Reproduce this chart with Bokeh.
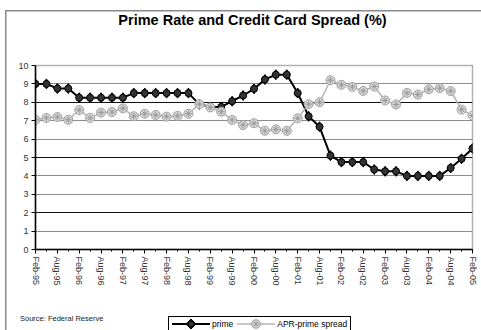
from bokeh.plotting import figure
from bokeh.layouts import column
from bokeh.models import (Range1d, FixedTicker, Grid, Label, Div, ColumnDataSource)
from bokeh.embed import file_html
from bokeh.resources import INLINE

# Quarterly observations, Feb-95 .. Feb-05
quarters = ["Feb-95", "May-95", "Aug-95", "Nov-95",
            "Feb-96", "May-96", "Aug-96", "Nov-96",
            "Feb-97", "May-97", "Aug-97", "Nov-97",
            "Feb-98", "May-98", "Aug-98", "Nov-98",
            "Feb-99", "May-99", "Aug-99", "Nov-99",
            "Feb-00", "May-00", "Aug-00", "Nov-00",
            "Feb-01", "May-01", "Aug-01", "Nov-01",
            "Feb-02", "May-02", "Aug-02", "Nov-02",
            "Feb-03", "May-03", "Aug-03", "Nov-03",
            "Feb-04", "May-04", "Aug-04", "Nov-04",
            "Feb-05"]

prime = [9.00, 9.00, 8.75, 8.75,
         8.25, 8.25, 8.25, 8.25,
         8.25, 8.50, 8.50, 8.50,
         8.50, 8.50, 8.50, 7.89,
         7.75, 7.75, 8.06, 8.37,
         8.73, 9.24, 9.50, 9.50,
         8.50, 7.24, 6.67, 5.10,
         4.75, 4.75, 4.75, 4.35,
         4.25, 4.25, 4.00, 4.00,
         4.00, 4.00, 4.43, 4.93,
         5.49]

spread = [7.05, 7.15, 7.20, 7.05,
          7.58, 7.15, 7.44, 7.47,
          7.67, 7.24, 7.38, 7.31,
          7.22, 7.26, 7.38, 7.90,
          7.72, 7.49, 7.04, 6.76,
          6.86, 6.45, 6.53, 6.45,
          7.13, 7.90, 8.00, 9.20,
          8.95, 8.84, 8.62, 8.86,
          8.10, 7.88, 8.51, 8.42,
          8.71, 8.77, 8.61, 7.60,
          7.28]

tick_labels = ["Feb-95", "Aug-95", "Feb-96", "Aug-96", "Feb-97", "Aug-97",
               "Feb-98", "Aug-98", "Feb-99", "Aug-99", "Feb-00", "Aug-00",
               "Feb-01", "Aug-01", "Feb-02", "Aug-02", "Feb-03", "Aug-03",
               "Feb-04", "Aug-04", "Feb-05"]

y_ticks = [0, 1, 2, 3, 4, 5, 6, 7, 8, 9, 10]

series_names = ["prime", "APR-prime spread"]

FONT = "Liberation Sans"
BORDER = "#8a8a8a"
W = 481
PLOT_LEFT, PLOT_RIGHT = 35, 472

# ---- heading band (frame lines up with the chart frame below) -------------
top = figure(width=W, height=40, output_backend="svg", toolbar_location=None,
             title=None, x_axis_type=None, y_axis_type=None,
             x_range=Range1d(PLOT_LEFT, PLOT_RIGHT), y_range=Range1d(40, 0), min_border=0)
top.outline_line_color = None
top.background_fill_alpha = 0
top.border_fill_alpha = 0
top.add_layout(Label(x=252, y=19, text="Prime Rate and Credit Card Spread (%)",
                     text_font=FONT, text_font_style="bold", text_font_size="14.5px",
                     text_align="center", text_baseline="middle", text_color="black"))

# ---- main chart ----------------------------------------------------------
x = list(range(len(quarters)))
src = ColumnDataSource(dict(x=x, q=quarters, prime=prime, spread=spread))
tick_pos = [quarters.index(t) for t in tick_labels]

p = figure(width=W, height=260, output_backend="svg", toolbar_location=None, title=None,
           x_range=Range1d(0, len(quarters) - 1), y_range=Range1d(0, 10),
           min_border_left=PLOT_LEFT, min_border_right=W - PLOT_RIGHT, min_border_top=25,
           min_border_bottom=51)
p.background_fill_color = "white"
p.border_fill_alpha = 0
p.outline_line_color = "#666666"
p.outline_line_width = 1.5
p.outline_line_dash = "1 1"

p.xgrid.visible = False
p.ygrid.ticker = FixedTicker(ticks=[1, 3, 4, 6, 7, 9])
p.ygrid.grid_line_color = "#8c8c8c"
p.ygrid.grid_line_width = 1
p.add_layout(Grid(dimension=1, ticker=FixedTicker(ticks=[2, 5, 8]),
                  grid_line_color="#111111", grid_line_width=1))

p.xaxis.ticker = FixedTicker(ticks=tick_pos, minor_ticks=x)
p.xaxis.major_label_overrides = {pos: lab for pos, lab in zip(tick_pos, tick_labels)}
p.xaxis.major_label_orientation = "vertical"
p.yaxis.ticker = FixedTicker(ticks=y_ticks)
for ax in (p.xaxis[0], p.yaxis[0]):
    ax.axis_line_color = "black"
    ax.axis_line_width = 1.5
    ax.major_tick_line_color = "black"
    ax.major_tick_in = 0
    ax.major_tick_out = 4
    ax.minor_tick_line_color = "black"
    ax.minor_tick_in = 0
    ax.minor_tick_out = 2
    ax.major_label_text_font = FONT
    ax.major_label_text_font_size = "9px"
    ax.major_label_text_color = "#333333"
    ax.major_label_standoff = 3
p.yaxis.minor_tick_line_color = None

p.line("x", "prime", source=src, line_color="black", line_width=2)
p.scatter("x", "prime", source=src, marker="diamond", size=10,
          fill_color="#1a1a1a", line_color="black")
p.scatter("x", "prime", source=src, marker="circle", size=7,
          fill_color="#333333", line_color="black")
p.line("x", "spread", source=src, line_color="#b4b4b4", line_width=1.5)
p.scatter("x", "spread", source=src, marker="circle", size=9,
          fill_color="#dcdcdc", line_color="#a0a0a0")
p.scatter("x", "spread", source=src, marker="asterisk", size=7, line_color="#9a9a9a")

# ---- footer: source note and legend key -----------------------------------
key_prime = ('<svg width="38" height="12" style="display:block">'
             '<line x1="0" y1="6" x2="38" y2="6" stroke="black" stroke-width="2"/>'
             '<polygon points="19,1 24,6 19,11 14,6" fill="#1a1a1a" stroke="black"/>'
             '<circle cx="19" cy="6" r="3" fill="#333333" stroke="black"/></svg>')
key_spread = ('<svg width="38" height="12" style="display:block">'
              '<line x1="0" y1="6" x2="38" y2="6" stroke="#b4b4b4" stroke-width="1.5"/>'
              '<circle cx="19" cy="6" r="4.3" fill="#dcdcdc" stroke="#a0a0a0"/>'
              '<path d="M19,2.5V9.5M15.5,6H22.5M16.5,3.5L21.5,8.5M21.5,3.5L16.5,8.5" '
              'stroke="#9a9a9a" stroke-width="1"/></svg>')

foot_html = f"""<div style="position:relative;width:{W}px;height:30px;font-family:'{FONT}';"><span style="position:absolute;left:15px;top:9px;font-size:7.5px;line-height:9px;color:#222222;white-space:nowrap;">Source: Federal Reserve</span><div style="position:absolute;left:163px;top:11px;height:20px;box-sizing:border-box;border:1px solid black;background:white;display:flex;align-items:flex-start;padding:1px 3px 0 3px;font-size:8.5px;line-height:12px;white-space:nowrap;">{key_prime}<span style="margin:0 4px 0 2px;">{series_names[0]}</span>{key_spread}<span style="margin-left:2px;">{series_names[1]}</span></div></div>"""
foot = Div(text=foot_html, width=W, height=30, styles={"overflow": "visible"})

page = column(top, p, foot, spacing=0)
# chart-area border (left and top edges) behind the transparent canvases
page.styles = {
    "background-color": "white",
    "background-image": f"linear-gradient({BORDER}, {BORDER}), linear-gradient({BORDER}, {BORDER})",
    "background-position": "5px 10px, 5px 10px",
    "background-size": "1.5px 340px, 490px 1.5px",
    "background-repeat": "no-repeat",
}

open("out.html", "w").write(file_html(page, INLINE))
